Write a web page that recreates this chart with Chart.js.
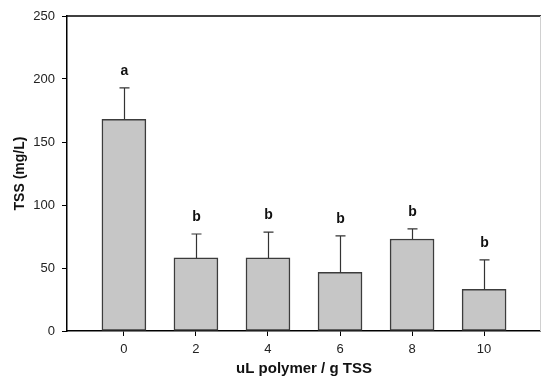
<!DOCTYPE html>
<html>
<head>
<meta charset="utf-8">
<script src="https://cdn.jsdelivr.net/npm/chart.js@4/dist/chart.umd.min.js"></script>
<style>
  body { margin: 0; background: #fff; }
  #wrap { width: 541px; height: 376px; }
</style>
</head>
<body>
<div id="wrap"><canvas id="tssChart"></canvas></div>
<script>
// polymer doses (uL polymer / g TSS)
const doses = [0, 2, 4, 6, 8, 10];
// mean TSS (mg/L)
const tssMean = [168, 58, 58, 46.5, 73, 33];
// upper error (mg/L)
const tssErr = [25, 19, 20.5, 29, 8, 23.5];
// significance letters
const groups = ['a', 'b', 'b', 'b', 'b', 'b'];
const yTicks = [0, 50, 100, 150, 200, 250];

const fontFamily = '"Liberation Sans", Arial, Helvetica, sans-serif';

const extras = {
    id: 'extras',
    afterDatasetsDraw(chart) {
        const ctx = chart.ctx;
        const x = chart.scales.x;
        const y = chart.scales.y;
        const area = chart.chartArea;
        ctx.save();

        // error bars (upper only) + letters
        ctx.strokeStyle = '#333';
        ctx.lineWidth = 1.2;
        ctx.fillStyle = '#111';
        ctx.font = 'bold 14px ' + fontFamily;
        ctx.textAlign = 'center';
        ctx.textBaseline = 'middle';
        doses.forEach((d, i) => {
            const px = Math.round(x.getPixelForValue(d)) + 0.5;
            const yBar = y.getPixelForValue(tssMean[i]);
            const yTop = y.getPixelForValue(tssMean[i] + tssErr[i]);
            ctx.beginPath();
            ctx.moveTo(px, yBar);
            ctx.lineTo(px, yTop);
            ctx.moveTo(px - 5, yTop);
            ctx.lineTo(px + 5, yTop);
            ctx.stroke();
            ctx.fillText(groups[i], px, yTop - 17);
        });

        // frame top and right
        ctx.strokeStyle = '#000';
        ctx.lineWidth = 1.5;
        ctx.beginPath();
        ctx.moveTo(area.left, area.top);
        ctx.lineTo(area.right, area.top);
        ctx.stroke();
        ctx.strokeStyle = '#d0d0d0';
        ctx.lineWidth = 1;
        ctx.beginPath();
        ctx.moveTo(area.right - 0.5, area.top);
        ctx.lineTo(area.right - 0.5, area.bottom);
        ctx.stroke();
        ctx.restore();
    }
};

new Chart(document.getElementById('tssChart'), {
    type: 'bar',
    data: {
        datasets: [{
            label: 'TSS',
            data: doses.map((d, i) => ({ x: d, y: tssMean[i] })),
            backgroundColor: '#c6c6c6',
            borderColor: '#3c3c3c',
            borderWidth: 1.5,
            borderSkipped: false,
            barThickness: 44
        }]
    },
    options: {
        responsive: true,
        maintainAspectRatio: false,
        animation: false,
        layout: { padding: { top: 16, right: 0, left: 0, bottom: 0 } },
        plugins: {
            legend: { display: false },
            tooltip: { enabled: false }
        },
        scales: {
            x: {
                type: 'linear',
                min: -1.58,
                max: 11.58,
                offset: false,
                afterBuildTicks(scale) {
                    scale.ticks = doses.map(v => ({ value: v }));
                },
                afterFit(scale) { scale.height = 45; },
                grid: {
                    offset: false,
                    drawOnChartArea: false,
                    drawTicks: true,
                    tickLength: 5,
                    tickColor: '#000'
                },
                border: { display: true, color: '#000', width: 1.5 },
                ticks: {
                    padding: 6,
                    color: '#222',
                    font: { family: fontFamily, size: 13 },
                    callback: v => String(v)
                },
                title: {
                    display: true,
                    text: 'uL polymer / g TSS',
                    color: '#111',
                    padding: { top: 0, bottom: 0 },
                    font: { family: fontFamily, size: 15, weight: 'bold', lineHeight: 1 }
                }
            },
            y: {
                min: 0,
                max: 250,
                afterBuildTicks(scale) {
                    scale.ticks = yTicks.map(v => ({ value: v }));
                },
                afterFit(scale) { scale.width = 67; },
                grid: {
                    drawOnChartArea: false,
                    drawTicks: true,
                    tickLength: 5,
                    tickColor: '#000'
                },
                border: { display: true, color: '#000', width: 1.5 },
                ticks: {
                    padding: 7,
                    color: '#222',
                    font: { family: fontFamily, size: 13 }
                },
                title: {
                    display: true,
                    text: 'TSS (mg/L)',
                    color: '#111',
                    padding: { top: 12, bottom: 0 },
                    font: { family: fontFamily, size: 14, weight: 'bold' }
                }
            }
        }
    },
    plugins: [extras]
});
</script>
</body>
</html>
